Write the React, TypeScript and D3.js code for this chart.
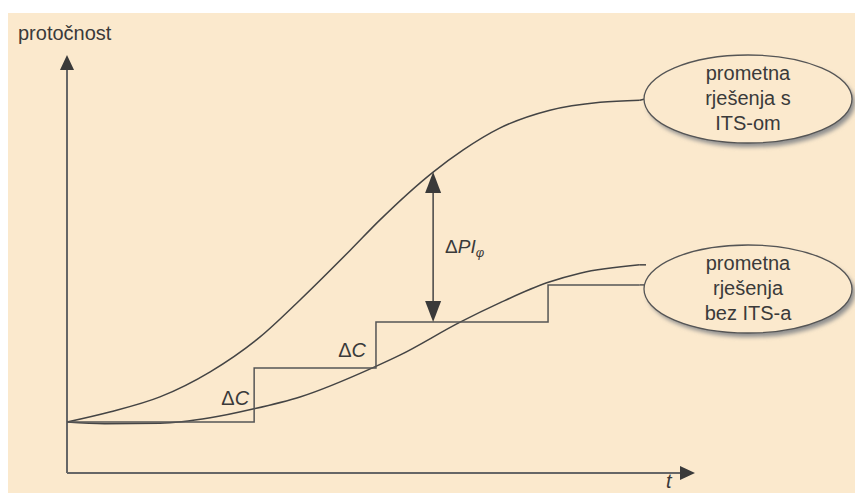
import React from "react";
import * as d3 from "d3";

// time (x) and flow (y) on a 0..100 scale
const itsX = [0, 6.8, 14.8, 22.8, 30.7, 37.1, 45.1, 49.8, 58.3, 63.1, 68.9, 76.9, 84.9, 91.2];
const itsY = [12.2, 14.6, 18.2, 24.2, 32.5, 41.4, 53.3, 60.5, 72.0, 77.3, 82.5, 86.8, 88.7, 89.2];

const noItsX = [0, 6.0, 14.8, 22.8, 29.6, 37.1, 49.0, 53.0, 62.6, 68.9, 76.4, 81.7, 91.2];
const noItsY = [12.2, 11.8, 11.9, 13.2, 15.3, 18.2, 25.4, 28.2, 36.1, 40.7, 45.5, 47.8, 49.8];

// capacity steps (ΔC)
const stepX = [0, 29.8, 49.2, 76.6, 91.2];
const stepY = [12.2, 25.1, 36.1, 45.0, 45.0];

const gapX = 58.3; // where ΔPIφ is measured
const gapTop = 72.0;
const labelLines1 = ["prometna", "rješenja s", "ITS-om"];
const labelLines2 = ["prometna", "rješenja", "bez ITS-a"];

const W = 855;
const H = 493;
const bg = "#fbe9cd";
const ink = "#3a3a3a";
const font = "'Liberation Sans', Arial, sans-serif";

const App = () => {
    const x = d3.scaleLinear().domain([0, 100]).range([67, 695]);
    const y = d3.scaleLinear().domain([0, 100]).range([473, 55]);

    const smooth = d3.line<[number, number]>()
        .x(d => x(d[0]))
        .y(d => y(d[1]))
        .curve(d3.curveMonotoneX);

    const steps = d3.line<[number, number]>()
        .x(d => x(d[0]))
        .y(d => y(d[1]))
        .curve(d3.curveStepAfter);

    const its = itsX.map((v, i) => [v, itsY[i]] as [number, number]);
    const noIts = noItsX.map((v, i) => [v, noItsY[i]] as [number, number]);
    const stepPts = stepX.map((v, i) => [v, stepY[i]] as [number, number]);

    const x0 = x(0), y0 = y(0);
    const topY = y(100);
    const endX = x(100);

    // ellipse positions
    const ex = 748, rx = 104, ry = 44;
    const e1y = 99, e2y = 289;

    // double arrow
    const ax = x(gapX);
    const aTop = y(gapTop);
    const aBot = y(stepY[2]);
    const ah = 21, aw = 8;

    const lastIts = its[its.length - 1];
    const lastNo = noIts[noIts.length - 1];
    const lastStep = stepPts[stepPts.length - 1];

    const ellipse = (cy: number, lines: string[]) => (
        <g>
            <ellipse cx={ex + 3} cy={cy + 4} rx={rx} ry={ry} fill="#8f8f8f" filter="url(#blur)" />
            <ellipse cx={ex} cy={cy} rx={rx} ry={ry} fill={bg} stroke="#555" strokeWidth={1.3} />
            {lines.map((t, i) => (
                <text key={i} x={ex} y={cy - 19 + i * 25} textAnchor="middle"
                      fontSize={20} fill={ink} fontFamily={font}>{t}</text>
            ))}
        </g>
    );

    return (
        <svg width={W} height={H} style={{position: "absolute", left: 0, top: 0}}>
            <defs>
                <filter id="blur" x="-20%" y="-20%" width="140%" height="140%">
                    <feGaussianBlur stdDeviation={2} />
                </filter>
            </defs>
            <rect x={8} y={13} width={W - 8} height={H - 13} fill={bg} />

            {/* axes */}
            <line x1={x0} y1={y0} x2={x0} y2={topY + 14} stroke="#666" strokeWidth={2} />
            <line x1={x0} y1={y0} x2={endX - 14} y2={y0} stroke="#666" strokeWidth={2} />
            <path d={`M${x0},${topY} L${x0 - 7},${topY + 15} L${x0 + 7},${topY + 15} Z`} fill={ink} />
            <path d={`M${endX},${y0} L${endX - 15},${y0 - 7} L${endX - 15},${y0 + 7} Z`} fill={ink} />
            <text x={18} y={40} fontSize={20} fill={ink} fontFamily={font}>protočnost</text>
            <text x={666} y={488} fontSize={20} fill={ink} fontFamily={font} fontStyle="italic">t</text>

            {/* curves */}
            <path d={smooth(its) ?? ""} fill="none" stroke="#444" strokeWidth={1.5} />
            <path d={smooth(noIts) ?? ""} fill="none" stroke="#444" strokeWidth={1.5} />
            <path d={steps(stepPts) ?? ""} fill="none" stroke="#555" strokeWidth={1.5} />

            {/* connectors */}
            <line x1={x(lastIts[0])} y1={y(lastIts[1])} x2={ex - rx + 1} y2={e1y} stroke="#444" strokeWidth={1.5} />
            <line x1={x(lastNo[0])} y1={y(lastNo[1])} x2={ex - rx + 2} y2={y(lastNo[1])} stroke="#444" strokeWidth={1.5} />
            <line x1={x(lastStep[0])} y1={y(lastStep[1])} x2={ex - rx + 2} y2={y(lastStep[1])} stroke="#555" strokeWidth={1.5} />

            {/* ΔPIφ arrow */}
            <line x1={ax} y1={aTop + ah - 2} x2={ax} y2={aBot - ah + 2} stroke="#444" strokeWidth={1.5} />
            <path d={`M${ax},${aTop} L${ax - aw},${aTop + ah} L${ax + aw},${aTop + ah} Z`} fill={ink} />
            <path d={`M${ax},${aBot} L${ax - aw},${aBot - ah} L${ax + aw},${aBot - ah} Z`} fill={ink} />
            <text x={ax + 12} y={253} fontSize={19} fill={ink} fontFamily={font}>
                Δ<tspan fontStyle="italic">PI</tspan>
                <tspan fontStyle="italic" fontSize={13} dy={4}>φ</tspan>
            </text>

            {/* ΔC labels */}
            <text x={x(stepX[1]) - 5} y={405} textAnchor="end" fontSize={20} fill={ink} fontFamily={font}>
                Δ<tspan fontStyle="italic">C</tspan>
            </text>
            <text x={x(stepX[2]) - 10} y={357} textAnchor="end" fontSize={20} fill={ink} fontFamily={font}>
                Δ<tspan fontStyle="italic">C</tspan>
            </text>

            {ellipse(e1y, labelLines1)}
            {ellipse(e2y, labelLines2)}
        </svg>
    );
};

export default App;
